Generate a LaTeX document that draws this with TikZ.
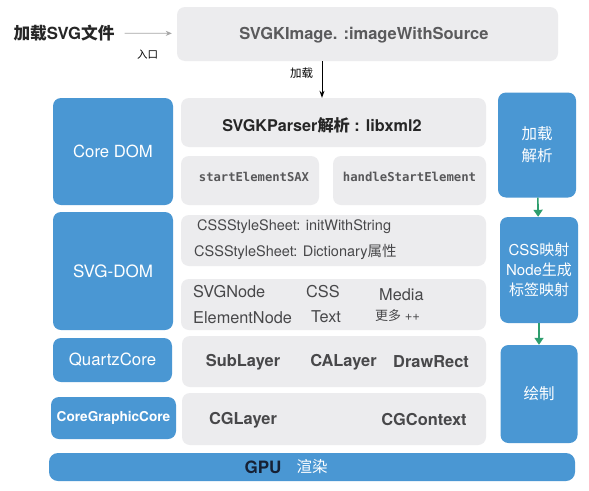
\documentclass[tikz,border=0pt]{standalone}
\usepackage{fontspec}
\setmainfont{TeX Gyre Heros}
\setmonofont{DejaVu Sans Mono}
\newfontfamily\cjk{Noto Sans CJK SC}
\newcommand{\zh}[1]{{\cjk #1}}
\usetikzlibrary{arrows.meta}
\definecolor{bblue}{RGB}{74,151,211}
\definecolor{bgray}{RGB}{236,236,238}
\definecolor{tgray}{RGB}{72,72,74}
\definecolor{mgray}{RGB}{88,88,90}
\definecolor{agreen}{RGB}{46,158,110}
\definecolor{navy}{RGB}{22,32,52}
\begin{document}
\begin{tikzpicture}[x=1pt,y=-1pt,
  graybox/.style={fill=bgray, rounded corners=8pt, inner sep=0pt},
  bluebox/.style={fill=bblue, rounded corners=8pt, inner sep=0pt, text=white, align=center},
  btxt/.style={font=\bfseries\fontsize{16.4}{19}\selectfont, text=tgray, inner sep=0pt},
  rtxt/.style={font=\fontsize{14.5}{17}\selectfont, text=tgray, inner sep=0pt},
  ntxt/.style={font=\fontsize{16.3}{19}\selectfont, text=tgray, inner sep=0pt},
  mtxt/.style={font=\ttfamily\bfseries\fontsize{12.2}{14}\selectfont, text=mgray, inner sep=0pt},
  greenarrow/.style={draw=agreen, line width=1.6pt, -{Triangle[length=7pt,width=9pt]}}
]
\useasboundingbox (0,0) rectangle (589,490);
\fill[white] (0,0) rectangle (589,490);

% top
\node[font=\bfseries\fontsize{16.7}{20}\selectfont, text=black!85, inner sep=0pt] (title) at (64,33) {\zh{加载}SVG\zh{文件}};
\node[font=\fontsize{10.5}{12}\selectfont, inner sep=0pt] (entry) at (147.5,55) {\zh{入口}};
\node[graybox, minimum width=381, minimum height=54] (img) at (367.5,34) {};
\node[btxt, font=\bfseries\fontsize{16.5}{19}\selectfont, text=tgray!90] (imgt) at (364,35.5) {SVGKImage. :imageWithSource};
\draw[gray!70, line width=0.8pt, -{Stealth[length=6pt,width=5pt]}, shorten <=10pt, shorten >=5pt] (title) -- (img);

% core dom
\node[bluebox, minimum width=120, minimum height=107, font=\fontsize{16.7}{20}\selectfont] (core) at (113,151.5) {Core DOM};
\node[graybox, minimum width=305, minimum height=49] (parser) at (333.5,122.5) {};
\node[btxt, font=\bfseries\fontsize{16.2}{19}\selectfont, text=black!85] (parsert) at (322,125) {SVGKParser\zh{解析} : libxml2};
\node[graybox, minimum width=138, minimum height=49] (sax) at (250,180.5) {};
\node[mtxt] (saxt) at (254,177) {startElementSAX};
\node[graybox, minimum width=153, minimum height=49] (handle) at (409.5,180.5) {};
\node[mtxt, font=\ttfamily\bfseries\fontsize{12.3}{14}\selectfont] (handlet) at (409.5,177) {handleStartElement};
\draw[black, line width=0.9pt, -{Stealth[length=7pt,width=5pt]}] ([xshift=-45.5pt]img.south) -- ([xshift=-11.5pt]parser.north);
\node[font=\fontsize{11.5}{13}\selectfont, inner sep=0pt] (loadlbl) at (301.5,73) {\zh{加载}};

% svg dom
\node[bluebox, minimum width=120, minimum height=118, font=\fontsize{17}{20}\selectfont] (svgdom) at (113,271) {SVG-DOM};
\node[graybox, minimum width=305, minimum height=51] (css) at (333.5,240.5) {};
\node[rtxt, anchor=west] (css1) at (197,227) {CSSStyleSheet: initWithString};
\node[rtxt, anchor=west] (css2) at (194,252) {CSSStyleSheet: Dictionary\zh{属性}};
\node[graybox, minimum width=305, minimum height=51] (nodes) at (333.5,304.5) {};
\node[ntxt, anchor=west] (n1) at (193,292) {SVGNode};
\node[ntxt, anchor=west] (n2) at (306,292) {CSS};
\node[ntxt, anchor=west] (n3) at (379,295) {Media};
\node[ntxt, anchor=west] (n4) at (193,318) {ElementNode};
\node[ntxt, anchor=west] (n5) at (311,317) {Text};
\node[ntxt, anchor=west, font=\fontsize{13}{15}\selectfont] (n6) at (375,316) {\zh{更多} ++};

% quartz
\node[bluebox, minimum width=119, minimum height=44, font=\fontsize{16.8}{20}\selectfont] (quartz) at (112.5,360) {QuartzCore};
\node[graybox, minimum width=304, minimum height=51] (layer) at (334,361.5) {};
\node[btxt] (l1) at (243,362) {SubLayer};
\node[btxt] (l2) at (343.5,362) {CALayer};
\node[btxt] (l3) at (431,362) {DrawRect};

% cg
\node[bluebox, minimum width=125, minimum height=42, font=\bfseries\fontsize{13.6}{16}\selectfont] (cg) at (113.5,418) {CoreGraphicCore};
\node[graybox, minimum width=304, minimum height=52] (cgbox) at (334,419) {};
\node[btxt] (c1) at (243,420) {CGLayer};
\node[btxt] (c2) at (424,420) {CGContext};

% gpu
\node[bluebox, minimum width=526, minimum height=28, rounded corners=9pt] (gpu) at (312,467) {};
\node[font=\bfseries\fontsize{17}{20}\selectfont, text=navy, inner sep=0pt] (gput) at (263,467.5) {GPU};
\node[font=\fontsize{15.5}{18}\selectfont, text=white, inner sep=0pt] (xr) at (312,466.5) {\zh{渲染}};

% right column
\node[bluebox, minimum width=78, minimum height=105, font=\fontsize{15.5}{22}\selectfont] (r1) at (537,145) {\zh{加载}\\\zh{解析}};
\node[bluebox, minimum width=78, minimum height=106, font=\fontsize{15}{20}\selectfont] (r2) at (539,270) {CSS\zh{映射}\\Node\zh{生成}\\\zh{标签映射}};
\node[bluebox, minimum width=77, minimum height=98, font=\fontsize{15.5}{18}\selectfont] (r3) at (539,394) {\zh{绘制}};
\draw[greenarrow] (r1) -- (r2);
\draw[greenarrow] (r2) -- (r3);
\end{tikzpicture}
\end{document}
